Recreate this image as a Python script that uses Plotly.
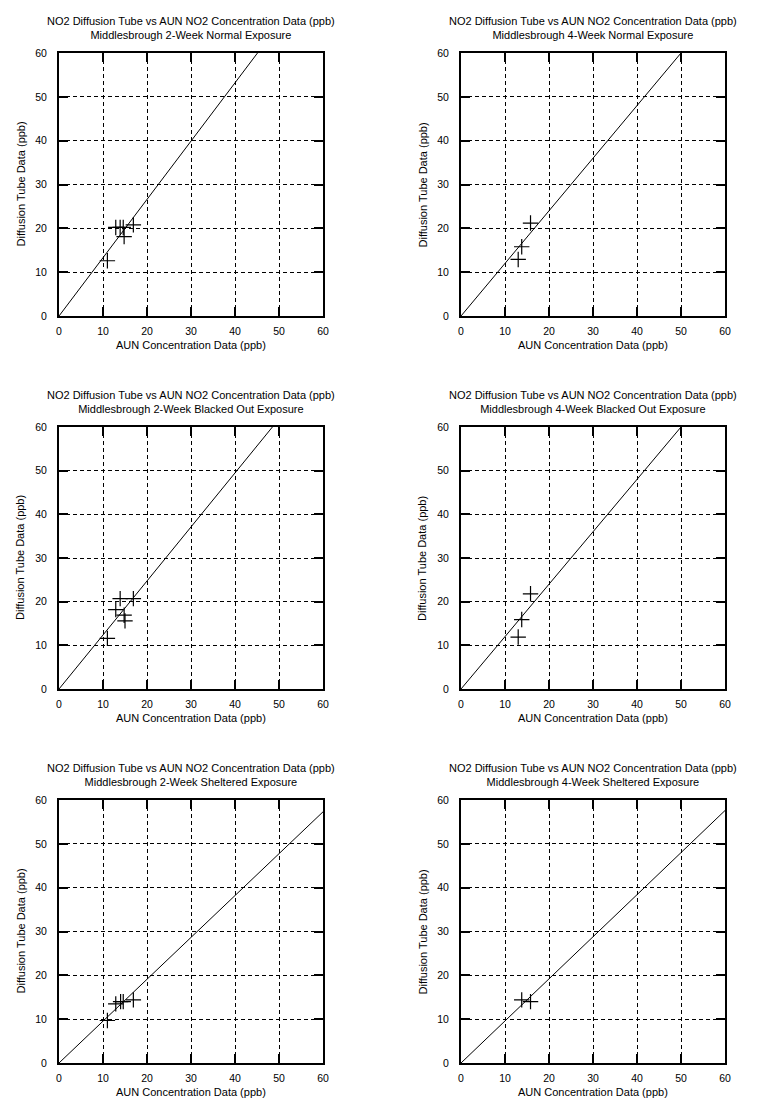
import plotly.graph_objects as go

W, H = 759, 1113
PAGE_OFF = 8  # browser default body margin

titles_line1 = ["NO2 Diffusion Tube vs AUN NO2 Concentration Data (ppb)"] * 6
titles_line2 = [
    "Middlesbrough 2-Week Normal Exposure",
    "Middlesbrough 4-Week Normal Exposure",
    "Middlesbrough 2-Week Blacked Out Exposure",
    "Middlesbrough 4-Week Blacked Out Exposure",
    "Middlesbrough 2-Week Sheltered Exposure",
    "Middlesbrough 4-Week Sheltered Exposure",
]

aun_2wk_normal = [11.0, 12.9, 13.9, 14.6, 14.8, 16.9]
tube_2wk_normal = [12.6, 20.2, 20.2, 20.2, 18.1, 20.8]

aun_4wk_normal = [13.0, 13.8, 15.8]
tube_4wk_normal = [12.9, 15.8, 21.2]

aun_2wk_black = [11.0, 12.9, 13.9, 14.8, 15.0, 16.9]
tube_2wk_black = [11.6, 18.2, 20.7, 16.9, 15.6, 20.7]

aun_4wk_black = [13.0, 13.8, 15.8]
tube_4wk_black = [11.9, 15.9, 21.8]

aun_2wk_shelt = [11.0, 12.9, 14.0, 14.6, 16.9]
tube_2wk_shelt = [9.7, 13.5, 14.0, 14.0, 14.4]

aun_4wk_shelt = [13.8, 15.8]
tube_4wk_shelt = [14.4, 14.0]

# fitted line slopes (through origin)
slopes = [1.33, 1.20, 1.237, 1.20, 0.955, 0.96]

xs = [aun_2wk_normal, aun_4wk_normal, aun_2wk_black, aun_4wk_black, aun_2wk_shelt, aun_4wk_shelt]
ys = [tube_2wk_normal, tube_4wk_normal, tube_2wk_black, tube_4wk_black, tube_2wk_shelt, tube_4wk_shelt]

tick_vals = [0, 10, 20, 30, 40, 50, 60]
axis_min, axis_max = 0, 60

x_title = "AUN Concentration Data (ppb)"
y_title = "Diffusion Tube Data (ppb)"

# layout in target page pixels
col_x = [(59, 323), (461, 725)]
row_y = [(53, 316), (427, 689), (800, 1063)]


def px_x(p):
    return (p - PAGE_OFF) / W


def px_y(p):
    return 1 - (p - PAGE_OFF) / H


FONT = "Liberation Sans, Arial, Helvetica, sans-serif"
fig = go.Figure()
annotations = []

for i in range(6):
    r, c = divmod(i, 2)
    n = i + 1
    xa = "x" if n == 1 else f"x{n}"
    ya = "y" if n == 1 else f"y{n}"
    x0, x1 = col_x[c]
    yt, yb = row_y[r]
    xdom = [px_x(x0), px_x(x1)]
    ydom = [px_y(yb), px_y(yt)]

    s = slopes[i]
    xe = min(axis_max, axis_max / s)
    fig.add_trace(go.Scatter(x=[0, xe], y=[0, s * xe], mode="lines",
                             line=dict(color="black", width=1),
                             xaxis=xa, yaxis=ya, showlegend=False, hoverinfo="skip"))
    fig.add_trace(go.Scatter(x=xs[i], y=ys[i], mode="markers",
                             marker=dict(symbol="cross-thin", size=11,
                                         line=dict(color="black", width=1.2), color="black"),
                             xaxis=xa, yaxis=ya, showlegend=False))

    common = dict(range=[axis_min, axis_max], tickvals=tick_vals,
                  ticktext=[str(v) for v in tick_vals],
                  ticks="inside", ticklen=9, tickwidth=2, tickcolor="black",
                  showline=True, linewidth=2, linecolor="black", mirror="ticks",
                  showgrid=True, gridcolor="black", gridwidth=1, griddash="4px,3px",
                  zeroline=False, fixedrange=True, automargin=False,
                  tickfont=dict(family=FONT, size=10.5, color="black"))
    xkey = "xaxis" if n == 1 else f"xaxis{n}"
    ykey = "yaxis" if n == 1 else f"yaxis{n}"
    fig.update_layout({
        xkey: dict(domain=xdom, anchor=ya, ticklabelstandoff=4, **common),
        ykey: dict(domain=ydom, anchor=xa, ticklabelstandoff=8, **common),
    })

    cx = (x0 + x1) / 2
    annotations.append(dict(text=titles_line1[i] + "<br>" + titles_line2[i],
                            x=px_x(cx), y=px_y(yt - 40), xref="paper", yref="paper",
                            xanchor="center", yanchor="top", showarrow=False,
                            font=dict(family=FONT, size=11, color="black")))
    annotations.append(dict(text=x_title, x=px_x(cx), y=px_y(yb + 29),
                            xref="paper", yref="paper", xanchor="center", yanchor="middle",
                            showarrow=False, font=dict(family=FONT, size=11, color="black")))
    annotations.append(dict(text=y_title, x=px_x(x0 - 39), y=px_y((yt + yb) / 2),
                            xref="paper", yref="paper", xanchor="center", yanchor="middle",
                            textangle=-90, showarrow=False,
                            font=dict(family=FONT, size=11, color="black")))

fig.update_layout(width=W, height=H, margin=dict(l=0, r=0, t=0, b=0, autoexpand=False),
                  paper_bgcolor="white", plot_bgcolor="white",
                  annotations=annotations, showlegend=False)

fig.write_html("out.html")
